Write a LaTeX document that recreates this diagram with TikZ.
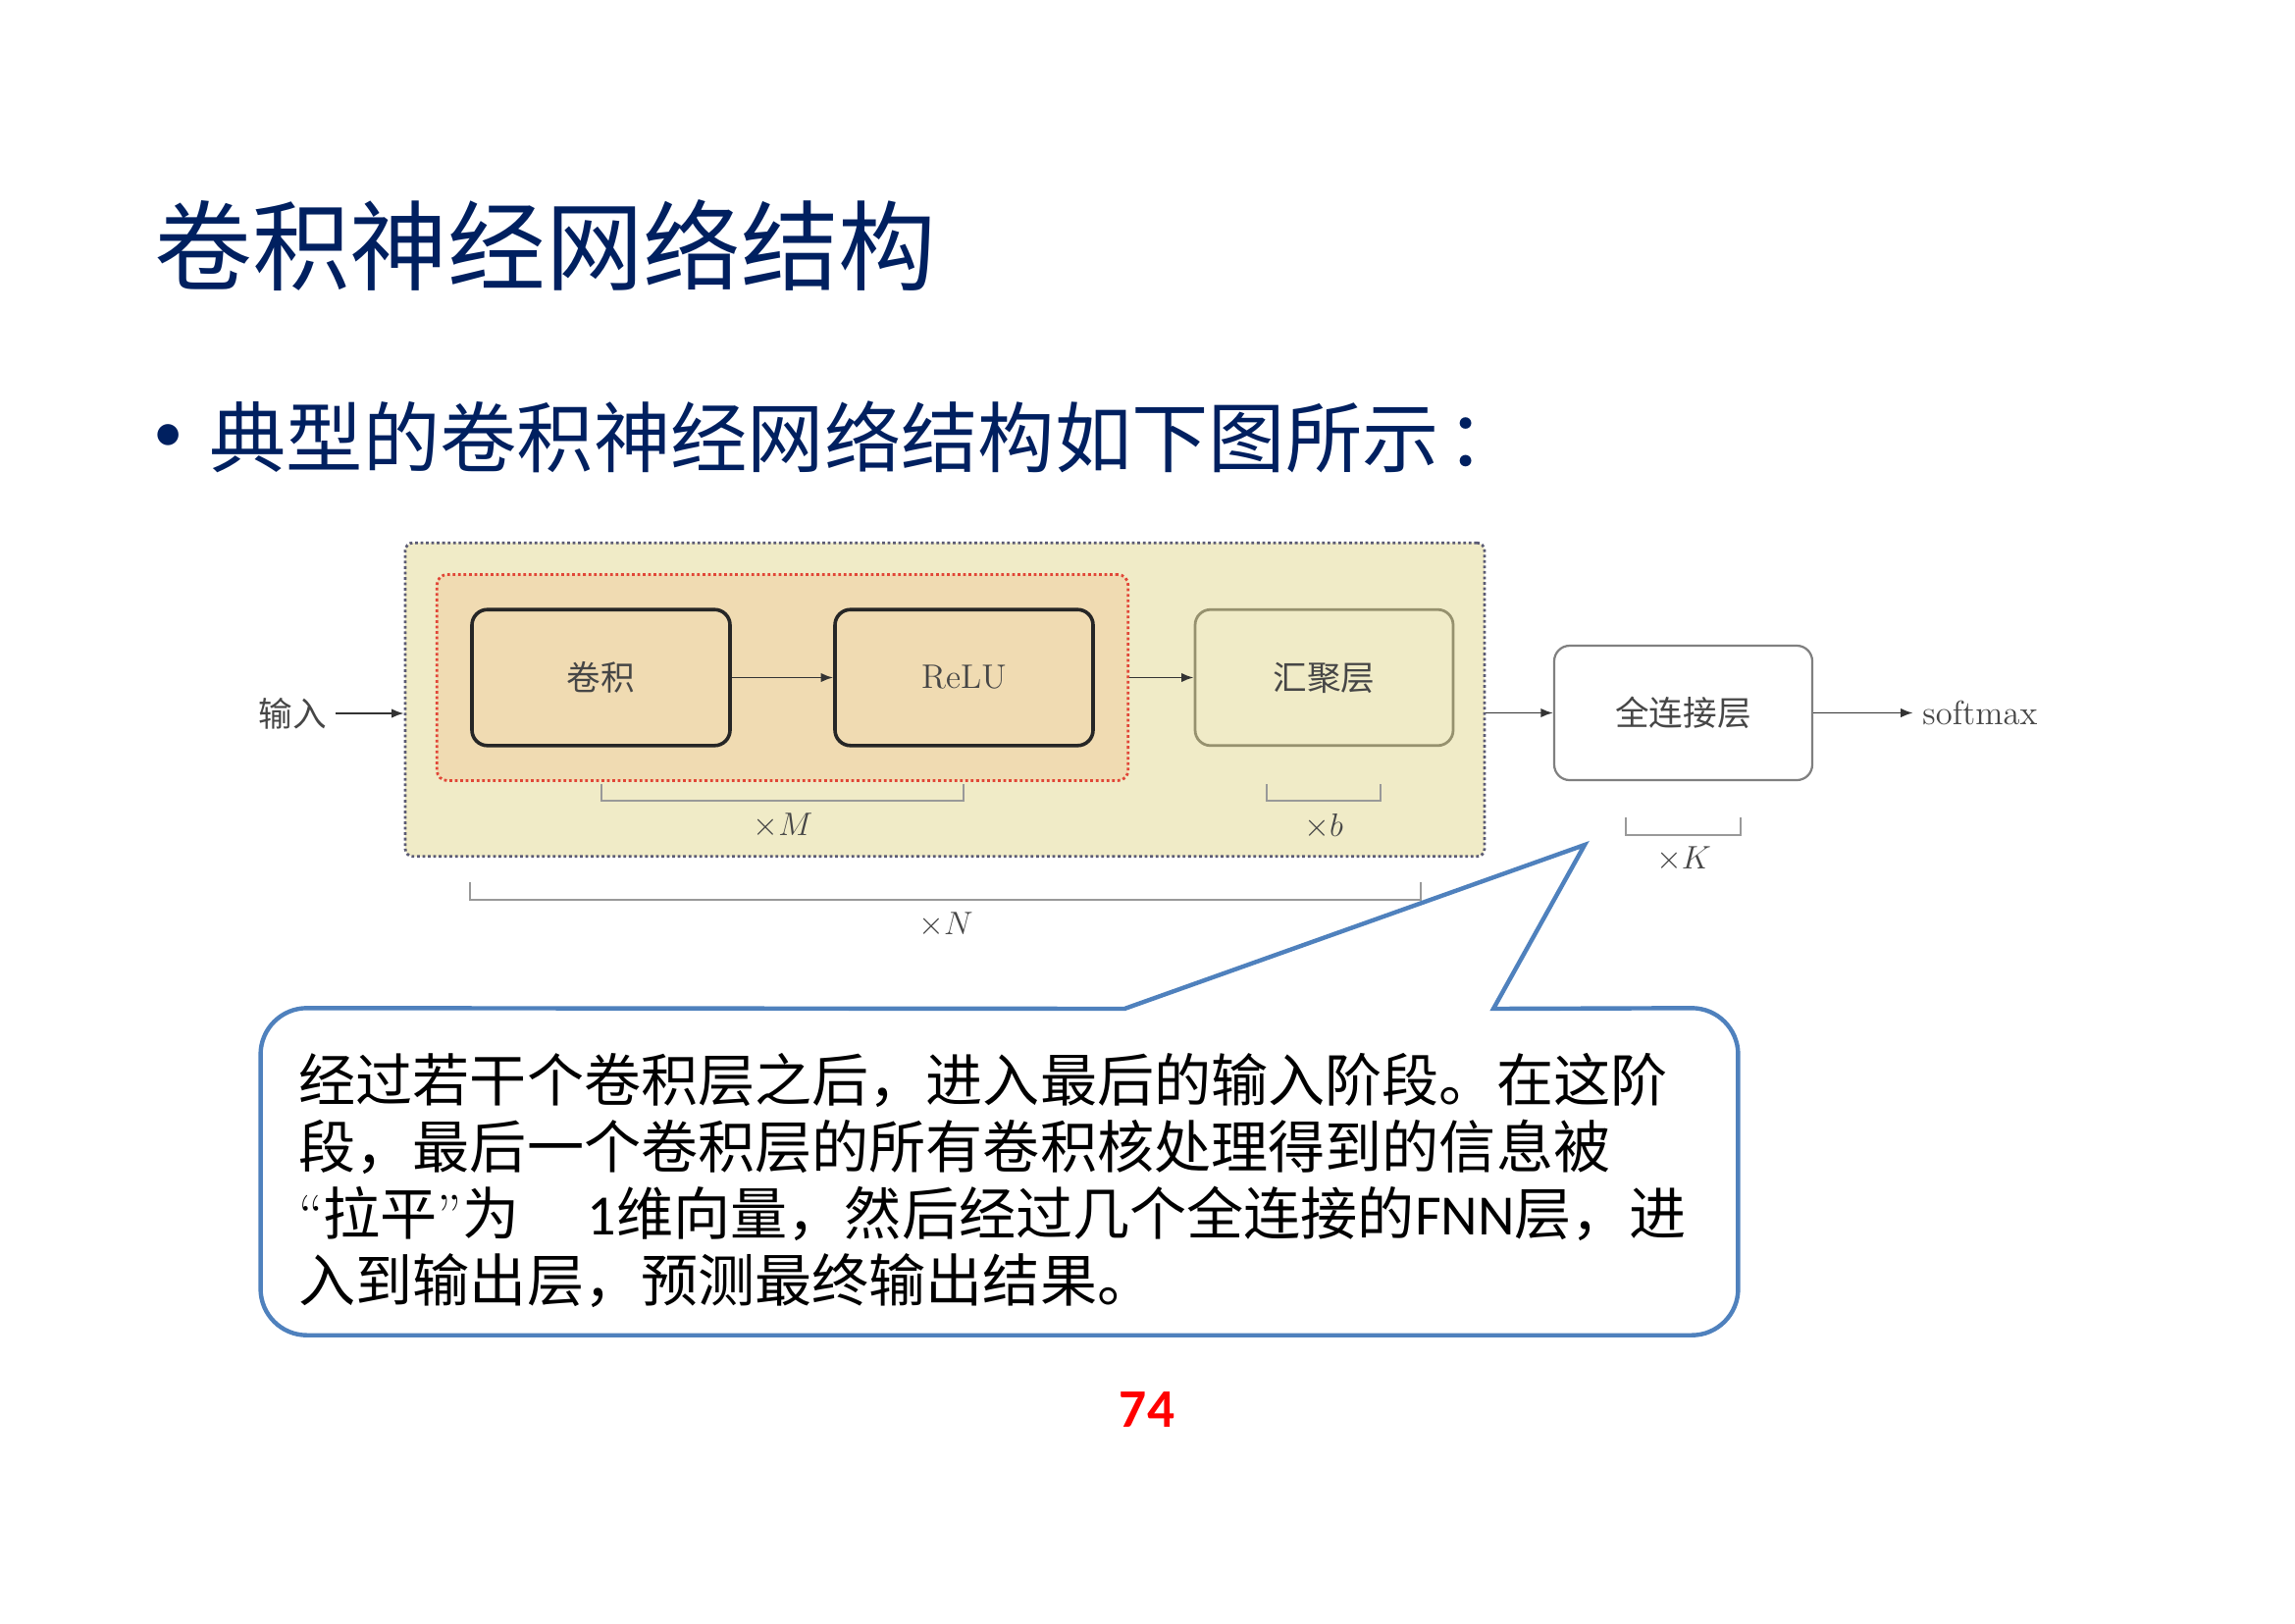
\documentclass[tikz,border=0pt]{standalone}
\usepackage{fontspec}
\newfontfamily\cjk{Noto Sans CJK SC}
\newfontfamily\numfont{Carlito}
\usetikzlibrary{arrows.meta,positioning,calc,fit,backgrounds}
\definecolor{titleblue}{RGB}{0,32,96}
\definecolor{calloutblue}{RGB}{79,129,189}
\definecolor{paleyellow}{RGB}{240,235,199}
\definecolor{paletan}{RGB}{240,219,178}
\definecolor{dotred}{RGB}{225,70,55}
\definecolor{dotblue}{RGB}{90,90,115}
\definecolor{olivegray}{RGB}{150,145,110}
\definecolor{inkgray}{RGB}{70,70,70}

\begin{document}
\begin{tikzpicture}[x=0.127mm, y=-0.127mm,
    blk/.style={rectangle, rounded corners=2mm, minimum width=33.4mm, minimum height=17.6mm,
                font=\cjk\fontsize{12.5}{15}\selectfont, text=inkgray},
    lbl/.style={font=\fontsize{12.5}{15}\selectfont, text=inkgray},
    arr/.style={-{Latex[length=1.6mm,width=1.2mm]}, line width=0.7pt, black!80},
    brk/.style={line width=0.9pt, gray!80},
    callout/.style={draw=calloutblue, line width=1.6pt, fill=white}]

    \useasboundingbox (0,0) rectangle (2339,1654);

    % Heading
    \node[anchor=west, inner sep=0, text=titleblue, font=\cjk\fontsize{36}{40}\selectfont] (title) at (157,250) {卷积神经网络结构};
    \node[inner sep=0, text=titleblue, font=\numfont\fontsize{22}{26}\selectfont] (dot) at (172,447) {•};
    \node[anchor=west, inner sep=0, text=titleblue, font=\cjk\fontsize{28.3}{32}\selectfont] (lead) at (213,445) {典型的卷积神经网络结构如下图所示\hspace{0.1em}：};

    % Layers
    \node[blk, draw=black!85, line width=1.3pt, fill=paletan] (conv) at (612.5,690.5) {卷积};
    \node[blk, draw=black!85, line width=1.3pt, fill=paletan, font=\fontsize{12.5}{15}\selectfont] (relu) at (982.5,690.5) {ReLU};
    \node[blk, draw=olivegray, line width=1pt, fill=paleyellow] (pool) at (1349.5,690.5) {汇聚层};
    \node[blk, draw=gray, line width=0.8pt, fill=white, minimum height=17.4mm] (fc) at (1715.5,726.5) {全连接层};

    % Dotted groups
    \begin{scope}[on background layer]
      \node[rectangle, rounded corners=1mm, minimum width=139.7mm, minimum height=40.6mm,
            draw=dotblue, densely dotted, line width=1pt, fill=paleyellow] (outer) at (963,713) {};
      \node[fit=(conv)(relu), inner sep=4.3mm, rounded corners=1.3mm,
            draw=dotred, densely dotted, line width=1pt, fill=paletan] (red) {};
    \end{scope}

    % Input and output
    \node[lbl, font=\cjk\fontsize{12.5}{15}\selectfont] (in) at (298,727) {输入};
    \node[lbl, right=12.9mm of fc] (sm) {softmax};

    % Arrows
    \draw[arr] (in) -- (in -| outer.west);
    \draw[arr] (conv) -- (relu);
    \draw[arr] (red.east) -- (pool.west);
    \draw[arr] (outer.east |- fc) -- (fc);
    \draw[arr] (fc) -- (sm);

    % Repeat brackets
    \draw[brk] (613,799) |- (982,816) -- (982,799);
    \node[lbl] (xM) at (798,842) {$\times M$};
    \draw[brk] (1291,799) |- (1407,816) -- (1407,799);
    \node[lbl] (xb) at (1349,842) {$\times b$};
    \draw[brk] (479,899) |- (1448,917) -- (1448,899);
    \node[lbl] (xN) at (964,943) {$\times N$};
    \draw[brk] (1657,833) |- (1774,851) -- (1774,833);
    \node[lbl] (xK) at (1716,876) {$\times K$};

    % Callout
    \node[minimum width=191.1mm, minimum height=42.2mm, inner sep=0] (note) at (1018.5,1194) {};
    \coordinate (bl) at (1146,1028);
    \coordinate (br) at (1522,1028);
    \coordinate (tip) at (1615,861);
    \draw[callout] (bl) -- (tip) -- (br) -- ([xshift=-6mm]note.north east)
        arc[start angle=90, end angle=0, radius=6mm] -- ([yshift=6mm]note.south east)
        arc[start angle=0, end angle=-90, radius=6mm] -- ([xshift=6mm]note.south west)
        arc[start angle=270, end angle=180, radius=6mm] -- ([yshift=-6mm]note.north west)
        arc[start angle=180, end angle=90, radius=6mm] -- cycle;
    \node[anchor=north west, inner sep=0, align=left, font=\cjk\fontsize{21}{24.6}\selectfont] (txt) at (304,1073)
        {经过若干个卷积层之后，进入最后的输入阶段。在这阶\\
         段，最后一个卷积层的所有卷积核处理得到的信息被\\
         {\rmfamily “}拉平{\rmfamily ”}为\hspace{1.2em}{\numfont 1}维向量，然后经过几个全连接的{\numfont FNN}层，进\\
         入到输出层，预测最终输出结果。};

    % Page number
    \node[text=red, font=\numfont\bfseries\fontsize{20}{24}\selectfont] (page) at (1169,1437) {74};
\end{tikzpicture}
\end{document}
